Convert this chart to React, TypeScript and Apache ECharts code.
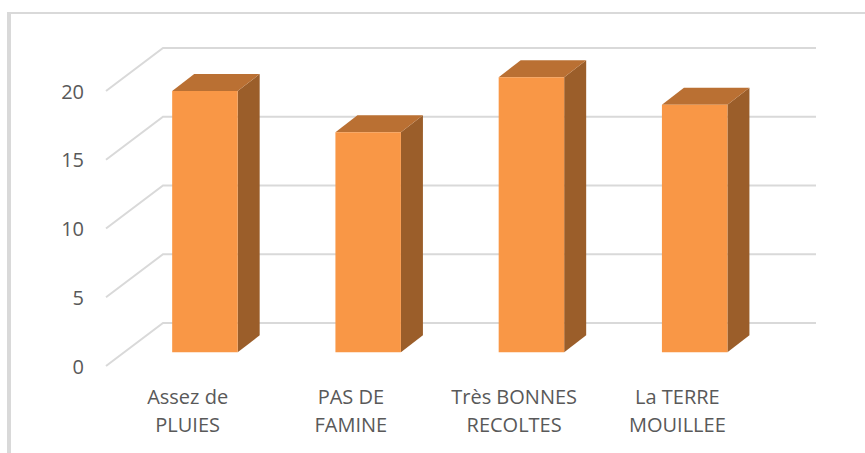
import React, { useEffect, useRef } from "react";
import * as echarts from "echarts";

const categories = ["Assez de\nPLUIES", "PAS DE\nFAMINE", "Très BONNES\nRECOLTES", "La TERRE\nMOUILLEE"];
const values = [19, 16, 20, 18];
const yTicks = [0, 5, 10, 15, 20];

const WALL_DX = 57;
const WALL_DY = 43;
const BAR_W = 65.5;
const BAR_SHIFT_X = 17.3;
const BAR_SHIFT_Y = 13.7;
const DEPTH_X = 22;
const DEPTH_Y = 17;
const GRID = "#D9D9D9";

export default function App() {
  const ref = useRef<HTMLDivElement>(null);
  useEffect(() => {
    const chart = echarts.init(ref.current!, null, { renderer: "svg" });
    chart.setOption({
      animation: false,
      backgroundColor: "#fff",
      grid: { left: 106, top: 91, width: 653, height: 275 },
      graphic: [
        { type: "rect", silent: true, shape: { x: 7, y: 12, width: 4, height: 441 }, style: { fill: GRID } },
        { type: "rect", silent: true, shape: { x: 7, y: 12, width: 858, height: 2 }, style: { fill: GRID } },
      ],
      xAxis: {
        type: "category",
        data: categories,
        axisLine: { show: false },
        axisTick: { show: false },
        axisLabel: { color: "#595959", fontFamily: "Open Sans", fontSize: 20, lineHeight: 28, margin: 16, interval: 0 },
      },
      yAxis: {
        type: "value",
        min: 0,
        max: 20,
        interval: 5,
        axisLine: { show: false },
        axisTick: { show: false },
        splitLine: { show: false },
        axisLabel: { color: "#595959", fontFamily: "Open Sans", fontSize: 20, margin: 22 },
      },
      series: [
        {
          type: "custom",
          silent: true,
          clip: false,
          z: 1,
          data: yTicks.map((t) => [0, t]),
          encode: { x: 0, y: 1 },
          renderItem: (params: any, api: any) => {
            const y = api.coord([0, api.value(1)])[1];
            const sys = params.coordSys;
            const lineStyle = { stroke: GRID, lineWidth: 2, fill: "none" };
            return {
              type: "polyline",
              shape: {
                points: [
                  [sys.x, y],
                  [sys.x + WALL_DX, y - WALL_DY],
                  [sys.x + sys.width + WALL_DX, y - WALL_DY],
                ],
              },
              style: lineStyle,
            };
          },
        },
        {
          type: "custom",
          silent: true,
          clip: false,
          z: 2,
          data: values.map((v, i) => [i, v]),
          encode: { x: 0, y: 1 },
          renderItem: (_: any, api: any) => {
            const i = api.value(0);
            const top = api.coord([i, api.value(1)]);
            const base = api.coord([i, 0]);
            const x0 = top[0] + BAR_SHIFT_X - BAR_W / 2;
            const x1 = x0 + BAR_W;
            const yt = top[1] - BAR_SHIFT_Y;
            const yb = base[1] - BAR_SHIFT_Y;
            return {
              type: "group",
              children: [
                {
                  type: "polygon",
                  shape: { points: [[x1, yt], [x1 + DEPTH_X, yt - DEPTH_Y], [x1 + DEPTH_X, yb - DEPTH_Y], [x1, yb]] },
                  style: { fill: "#9B5E2A" },
                },
                {
                  type: "polygon",
                  shape: { points: [[x0, yt], [x1, yt], [x1 + DEPTH_X, yt - DEPTH_Y], [x0 + DEPTH_X, yt - DEPTH_Y]] },
                  style: { fill: "#BA7033" },
                },
                {
                  type: "rect",
                  shape: { x: x0, y: yt, width: BAR_W, height: yb - yt },
                  style: { fill: "#F99746" },
                },
              ],
            };
          },
        },
      ],
    });
    return () => chart.dispose();
  }, []);
  return <div ref={ref} style={{ position: "absolute", left: 0, top: 0, width: 865, height: 453 }} />;
}
